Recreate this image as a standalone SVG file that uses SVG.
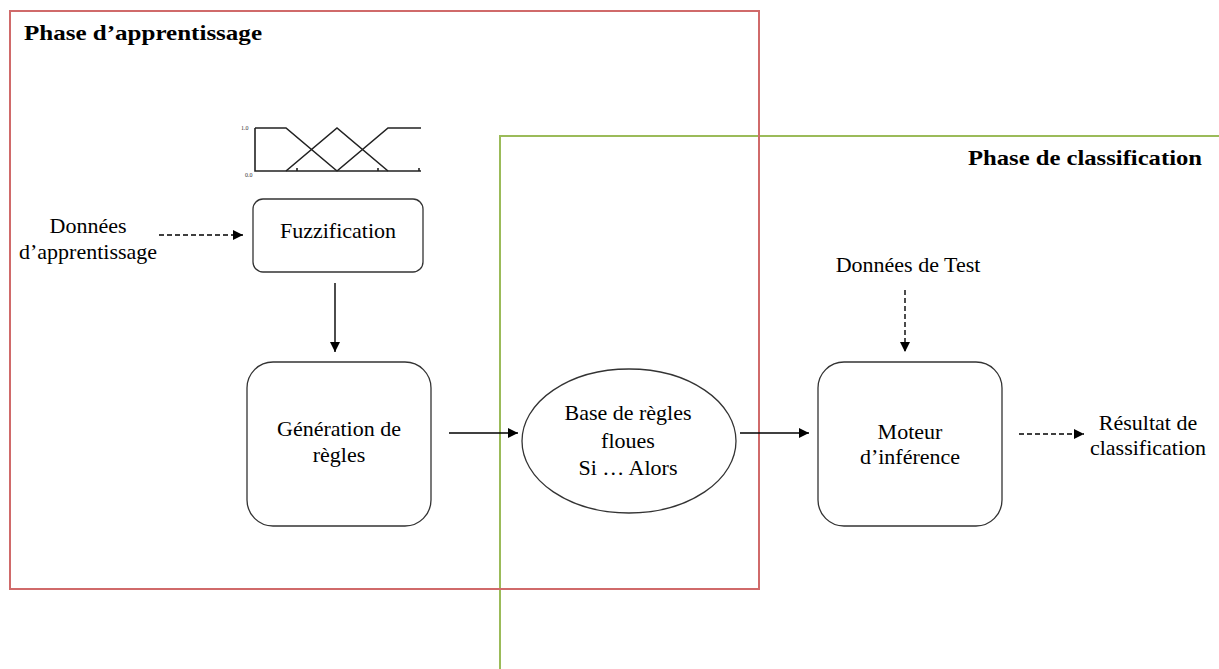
<svg xmlns="http://www.w3.org/2000/svg" width="1219" height="669" viewBox="0 0 1219 669">
<defs>
<style>
.t{font-family:"Liberation Serif","Times New Roman",serif;font-size:22px;fill:#000;text-anchor:middle}
.title{font-family:"Liberation Serif","Times New Roman",serif;font-size:22px;font-weight:bold;fill:#000}
.box{fill:#fff;stroke:#333;stroke-width:1.3}
.ar{stroke:#000;stroke-width:1.4;fill:none}
.dash{stroke-dasharray:5 3}
.fz{stroke:#222;stroke-width:1.6;fill:none}
.small{font-family:"Liberation Serif",serif;font-size:6px;fill:#333}
</style>
<marker id="ah" viewBox="0 0 10 10" refX="10" refY="5" markerWidth="10" markerHeight="10" markerUnits="userSpaceOnUse" orient="auto">
<path d="M0,0 L10,5 L0,10 z" fill="#000"/>
</marker>
</defs>
<rect width="1219" height="669" fill="#fff"/>
<g id="phase-classification">
<path d="M500,669 L500,136 L1219,136" fill="none" stroke="#9bbb59" stroke-width="2"/>
<text class="title" x="968" y="165" textLength="234" lengthAdjust="spacingAndGlyphs">Phase de classification</text>
</g>
<g id="phase-apprentissage">
<rect x="10" y="11" width="749" height="578" fill="none" stroke="#d06a6a" stroke-width="2"/>
<text class="title" x="24" y="40" textLength="238" lengthAdjust="spacingAndGlyphs">Phase d’apprentissage</text>
</g>
<g id="fuzzy-sets">
<path class="fz" d="M255,128 L255,171 L421,171"/>
<path class="fz" d="M255,128 L286,128 L337,171"/>
<path class="fz" d="M286,171 L337,128 L388,171"/>
<path class="fz" d="M337,171 L388,128 L421,128"/>
<path class="fz" d="M297,168 V171 M378,168 V171 M419,168 V171"/>
<text class="small" x="241" y="130">1.0</text>
<text class="small" x="245" y="177">0.0</text>
</g>
<g id="donnees-apprentissage">
<text class="t" x="88" y="233">Données</text>
<text class="t" x="88" y="259">d’apprentissage</text>
</g>
<g id="fuzzification">
<rect class="box" x="253" y="199" width="170" height="73" rx="10"/>
<text class="t" x="338" y="238">Fuzzification</text>
</g>
<g id="generation">
<rect class="box" x="247" y="362" width="184" height="164" rx="26"/>
<text class="t" x="339" y="436">Génération de</text>
<text class="t" x="339" y="462">règles</text>
</g>
<g id="base-regles">
<ellipse class="box" cx="629" cy="441" rx="107" ry="72"/>
<text class="t" x="628" y="420">Base de règles</text>
<text class="t" x="628" y="448">floues</text>
<text class="t" x="628" y="475">Si … Alors</text>
</g>
<g id="donnees-test">
<text class="t" x="908" y="272">Données de Test</text>
</g>
<g id="moteur">
<rect class="box" x="818" y="362" width="184" height="164" rx="26"/>
<text class="t" x="910" y="439">Moteur</text>
<text class="t" x="910" y="464">d’inférence</text>
</g>
<g id="resultat">
<text class="t" x="1148" y="430">Résultat de</text>
<text class="t" x="1148" y="455">classification</text>
</g>
<g id="connectors">
<line class="ar dash" x1="159" y1="235" x2="243" y2="235" marker-end="url(#ah)"/>
<line class="ar" x1="335" y1="283" x2="335" y2="352" marker-end="url(#ah)"/>
<line class="ar" x1="449" y1="433" x2="518" y2="433" marker-end="url(#ah)"/>
<line class="ar" x1="740" y1="433" x2="809" y2="433" marker-end="url(#ah)"/>
<line class="ar dash" x1="905" y1="290" x2="905" y2="352" marker-end="url(#ah)"/>
<line class="ar dash" x1="1019" y1="434" x2="1084" y2="434" marker-end="url(#ah)"/>
</g>
</svg>
